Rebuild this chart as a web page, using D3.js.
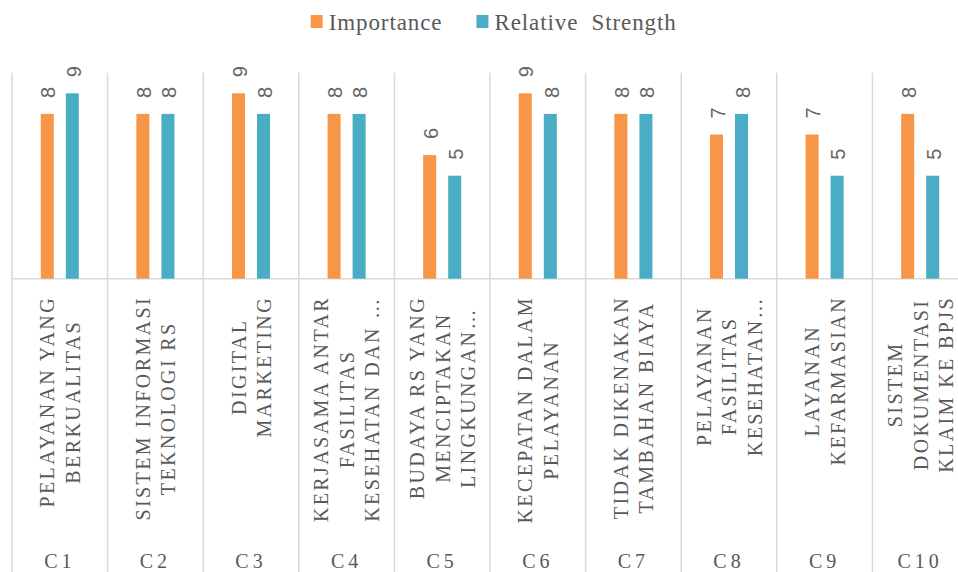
<!DOCTYPE html>
<html>
<head>
<meta charset="utf-8">
<script src="https://cdn.jsdelivr.net/npm/d3@7"></script>
<style>
  body { margin: 0; background: #fff; }
  svg { display: block; }
  .grid { stroke: #d9d9d9; stroke-width: 1.5; }
  .lbl { font-family: "Liberation Serif", serif; fill: #595959; }
  .val { font-family: "Liberation Sans", sans-serif; fill: #666; }
</style>
</head>
<body>
<div id="chart"></div>
<script>
var codes = ['C1', 'C2', 'C3', 'C4', 'C5', 'C6', 'C7', 'C8', 'C9', 'C10'];
var names = [
  ['PELAYANAN YANG', 'BERKUALITAS'],
  ['SISTEM INFORMASI', 'TEKNOLOGI RS'],
  ['DIGITAL', 'MARKETING'],
  ['KERJASAMA ANTAR', 'FASILITAS', 'KESEHATAN DAN …'],
  ['BUDAYA RS YANG', 'MENCIPTAKAN', 'LINGKUNGAN…'],
  ['KECEPATAN DALAM', 'PELAYANAN'],
  ['TIDAK DIKENAKAN', 'TAMBAHAN BIAYA'],
  ['PELAYANAN', 'FASILITAS', 'KESEHATAN…'],
  ['LAYANAN', 'KEFARMASIAN'],
  ['SISTEM', 'DOKUMENTASI', 'KLAIM KE BPJS']
];
var importance = [8, 8, 9, 8, 6, 9, 8, 7, 7, 8];
var strength = [9, 8, 8, 8, 5, 8, 8, 8, 5, 5];
var seriesNames = ['Importance', 'Relative  Strength'];
var colors = ['#f79646', '#4bacc6'];

var width = 958, height = 572;
var axisY = 278.7, topY = 72.7;

var svg = d3.select('#chart').append('svg')
    .attr('width', width)
    .attr('height', height);

var x = d3.scaleBand().domain(codes).range([12, 968]).padding(0);
var xs = d3.scaleBand().domain([0, 1]).range([0, x.bandwidth()])
    .paddingInner(0.48).paddingOuter(1.15);
var y = d3.scaleLinear().domain([0, 10]).range([axisY, topY]);

// divider lines between categories
svg.selectAll('.vline')
    .data(codes)
  .enter().append('line')
    .attr('class', 'grid')
    .attr('x1', function(d) { return x(d); })
    .attr('x2', function(d) { return x(d); })
    .attr('y1', y(10))
    .attr('y2', height);

svg.append('line')
    .attr('class', 'grid')
    .attr('x1', x.range()[0])
    .attr('x2', width)
    .attr('y1', axisY)
    .attr('y2', axisY);

var rows = codes.map(function(c, i) {
  return {code: c, vals: [importance[i], strength[i]]};
});

var groups = svg.selectAll('.group')
    .data(rows)
  .enter().append('g')
    .attr('transform', function(d) { return 'translate(' + x(d.code) + ',0)'; });

groups.selectAll('rect')
    .data(function(d) { return d.vals; })
  .enter().append('rect')
    .attr('x', function(d, i) { return xs(i); })
    .attr('width', xs.bandwidth())
    .attr('y', function(d) { return y(d); })
    .attr('height', function(d) { return axisY - y(d); })
    .style('fill', function(d, i) { return colors[i]; });

groups.selectAll('.val')
    .data(function(d) { return d.vals; })
  .enter().append('text')
    .attr('class', 'val')
    .attr('font-size', 20)
    .attr('transform', function(d, i) {
      return 'translate(' + (xs(i) + xs.bandwidth() / 2 + 1) + ',' + (y(d) - 16) + ') rotate(-90)';
    })
    .attr('dy', '0.36em')
    .text(function(d) { return d; });

// rotated category names, block aligned to the axis
groups.each(function(d, gi) {
  var g = d3.select(this);
  var lines = names[gi];
  var cx = x.bandwidth() / 2 + 0.7;
  var texts = g.selectAll('.name')
      .data(lines)
    .enter().append('text')
      .attr('class', 'lbl')
      .attr('font-size', 20)
      .attr('letter-spacing', 2.4)
      .attr('text-anchor', 'middle')
      .attr('dy', '0.33em')
      .text(function(t) { return t; });
  var maxLen = d3.max(texts.nodes(), function(n) { return n.getComputedTextLength(); });
  texts.attr('transform', function(t, i) {
    var lx = cx + (i - (lines.length - 1) / 2) * 25.5;
    return 'translate(' + lx + ',' + (296 + maxLen / 2) + ') rotate(-90)';
  });

  g.append('text')
      .attr('class', 'lbl')
      .attr('font-size', 20)
      .attr('letter-spacing', 4)
      .attr('text-anchor', 'middle')
      .attr('x', x.bandwidth() / 2)
      .attr('y', 568)
      .text(d.code);
});

// legend
var legend = svg.append('g');
var items = legend.selectAll('.item')
    .data(seriesNames)
  .enter().append('g');
items.append('rect')
    .attr('width', 12)
    .attr('height', 13)
    .attr('y', 15)
    .style('fill', function(d, i) { return colors[i]; });
items.append('text')
    .attr('class', 'lbl')
    .attr('font-size', 23)
    .attr('letter-spacing', 0.9)
    .attr('x', 18)
    .attr('y', 29.5)
    .style('white-space', 'pre')
    .text(function(d) { return d; });
var pos = 0;
items.each(function() {
  var w = this.getBBox().width;
  d3.select(this).attr('transform', 'translate(' + pos + ',0)');
  pos += w + 34;
});
pos -= 34;
legend.attr('transform', 'translate(' + (493.7 - pos / 2) + ',0)');
</script>
</body>
</html>
